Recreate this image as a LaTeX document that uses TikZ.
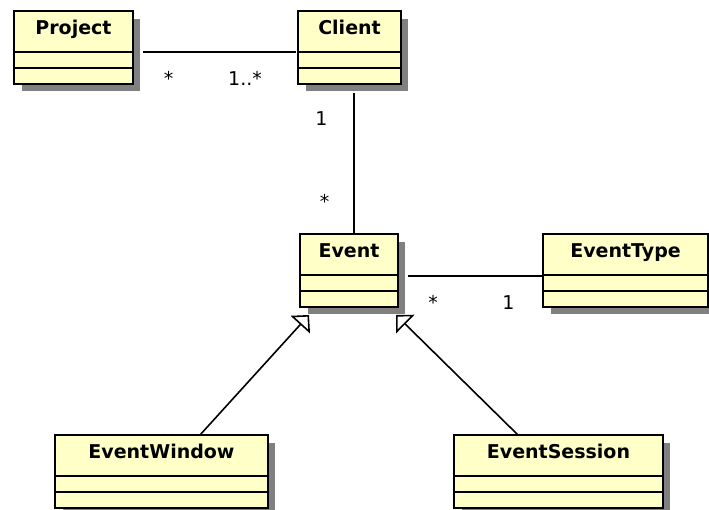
\documentclass[tikz,border=0pt]{standalone}
\usepackage{fontspec}
\setmainfont{DejaVu Sans}
\usetikzlibrary{calc,arrows.meta}

\definecolor{classfill}{RGB}{255,255,200}
\definecolor{shadowgray}{RGB}{128,128,128}

\tikzset{
  classbox/.style={draw=black, line width=2pt, fill=classfill, inner sep=0pt,
    outer sep=0pt, anchor=north west, minimum height=73pt},
  classshadow/.style={fill=shadowgray, draw=none},
  compartment/.style={draw=black, line width=2pt},
  classtitle/.style={font=\bfseries\fontsize{19}{23}\selectfont, anchor=base, inner sep=0pt},
  mult/.style={font=\fontsize{19}{23}\selectfont, anchor=base, inner sep=0pt},
  assoc/.style={draw=black, line width=1.6pt},
  generalization/.style={draw=black, line width=1.6pt,
    -{Triangle[open, length=13pt, width=26pt, line width=1.6pt, fill=white]}}
}

% UML class box: name, left x, top y, width, title
\newcommand\umlclass[5]{%
  \fill[classshadow] (#2+8,#3+8) rectangle ++(#4-1,72);
  \node[classbox, minimum width=#4pt] (#1) at (#2,#3) {};
  \draw[compartment] ($(#1.north west)+(0,41)$) -- ($(#1.north east)+(0,41)$);
  \draw[compartment] ($(#1.north west)+(0,57)$) -- ($(#1.north east)+(0,57)$);
  \node[classtitle] (#1-title) at ($(#1.north)+(0,23.5)$) {#5};
}

\begin{document}
\begin{tikzpicture}[x=1pt, y=-1pt]
  \useasboundingbox (0,0) rectangle (709,510);
  \clip (0,0) rectangle (709,510);

  % classes
  \umlclass{project}{14}{11}{119}{Project}
  \umlclass{client}{298}{11}{103}{Client}
  \umlclass{event}{300}{234}{98}{Event}
  \umlclass{eventtype}{543}{234}{165}{EventType}
  \umlclass{eventwindow}{55}{435}{213}{EventWindow}
  \umlclass{eventsession}{454}{435}{209}{EventSession}

  % associations
  \draw[assoc] ($(project.north east)+(10,41)$) -- ($(client.north west)+(-2,41)$);
  \draw[assoc] ($(client.south)+(4.5,9)$) -- ($(event.north)+(5,-1)$);
  \draw[assoc] ($(event.north east)+(10,42)$) -- ($(eventtype.north west)+(-1,42)$);

  % generalizations
  \draw[generalization] ($(eventwindow.north)+(38.5,0)$) -- ($(event.south west)+(9,8)$);
  \draw[generalization] ($(eventsession.north)+(-40.5,0)$) -- ($(event.south east)+(-2,8)$);

  % multiplicities
  \node[mult] (m-project) at (168.5,86) {*};
  \node[mult] (m-client) at (245,86) {1..*};
  \node[mult] (m-client-ev) at (321.5,126) {1};
  \node[mult] (m-event-cl) at (324.5,209) {*};
  \node[mult] (m-event-ty) at (433,310) {*};
  \node[mult] (m-type) at (508.5,310) {1};
\end{tikzpicture}
\end{document}
